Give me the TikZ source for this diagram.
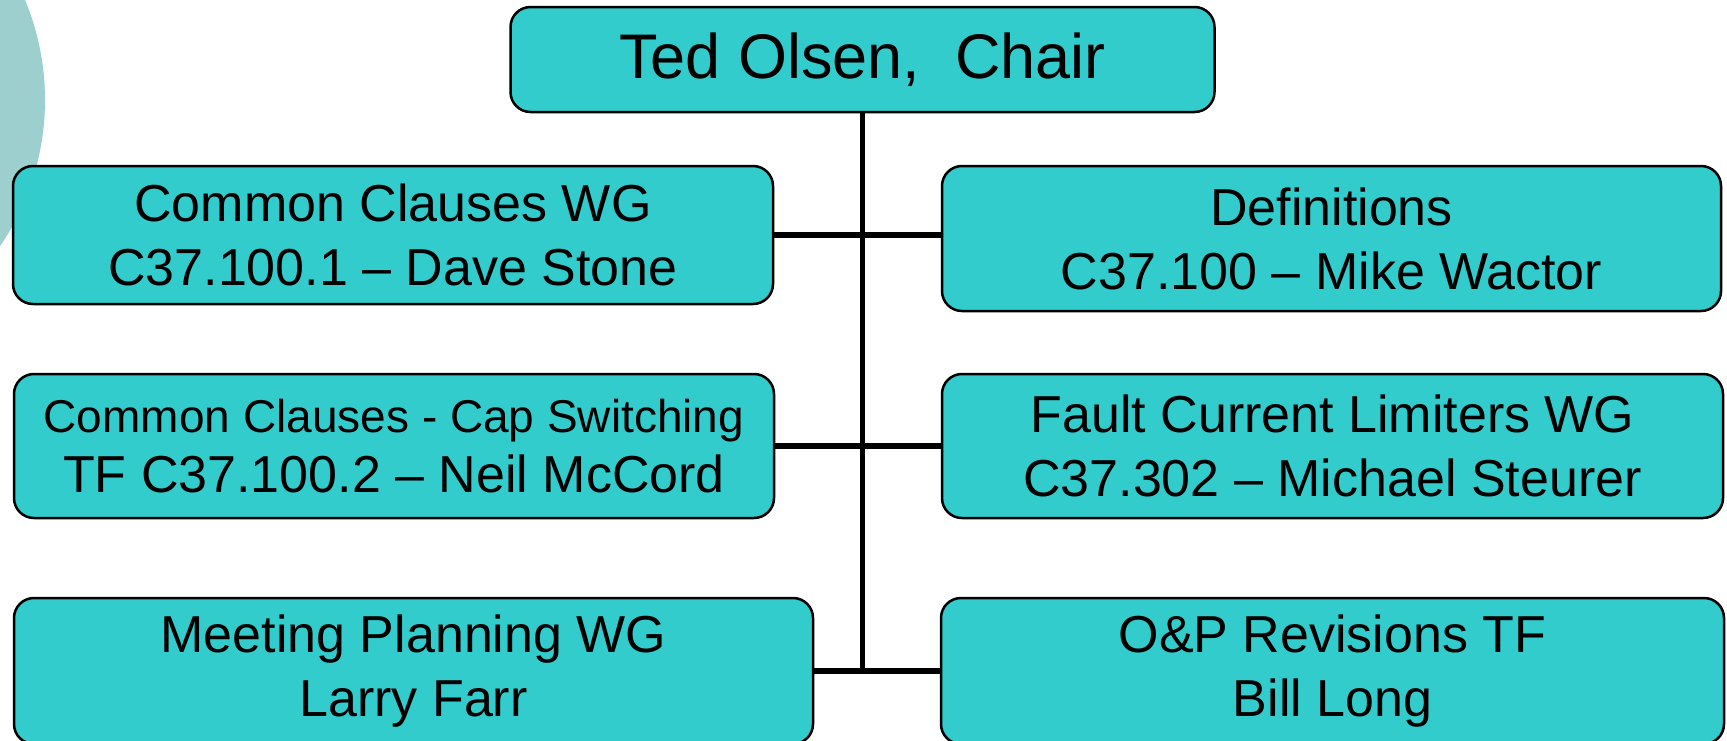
\documentclass[tikz,border=0pt]{standalone}
\usepackage{fontspec}
\setmainfont{Liberation Sans}
\usepackage{xcolor}
\usepackage{tikz}
\usetikzlibrary{arrows.meta}
\definecolor{boxteal}{RGB}{51,204,204}
\definecolor{circleteal}{RGB}{157,207,207}
\tikzset{
  unit box/.style={
    draw=black,
    line width=2.5pt,
    fill=boxteal,
    rounded corners=20pt,
    align=center,
    inner sep=0pt,
    font=\fontsize{52}{64}\selectfont,
    #1
  },
  chair box/.style={
    minimum width=704pt,
    minimum height=105pt,
    font=\fontsize{63}{75}\selectfont
  }
}
\begin{document}
\begin{tikzpicture}[x=1pt,y=-1pt]
                    \useasboundingbox (0,0) rectangle (1727,740);
                    \clip (0,0) rectangle (1727,740);
                    \fill [circleteal] (-215,100) circle [radius=260pt];
                    \begin{scope}[every node/.style={unit box}]
                        \node [chair box] (chair) at (862.5, 59.5) {Ted Olsen,\ \ Chair};

                        \node [minimum width=760pt, minimum height=138pt] (cc) at (393, 235) {Common Clauses WG\\C37.100.1 – Dave Stone};
                        \node [minimum width=779pt, minimum height=145pt] (defs) at (1331.5, 238.5) {Definitions\\C37.100 – Mike Wactor};

                        \node [minimum width=760pt, minimum height=144pt] (cap) at (394, 446) {{\fontsize{46}{55}\selectfont Common Clauses - Cap Switching}\\[-4pt]TF C37.100.2 – Neil McCord};
                        \node [minimum width=781pt, minimum height=144pt] (fcl) at (1332.5, 446) {Fault Current Limiters WG\\C37.302 – Michael Steurer};

                        \node [minimum width=799pt, minimum height=146pt] (mtg) at (413.5, 671) {Meeting Planning WG\\Larry Farr};
                        \node [minimum width=783pt, minimum height=146pt] (op) at (1332.5, 671) {O\&P Revisions TF\\Bill Long};
                    \end{scope}
                    \coordinate (trunk) at (chair.south |- mtg.east);
                    \begin{scope}[every edge/.style={draw=black,line width=5.5pt}]
                        \path (chair.south) edge (trunk);
                        \path (cc.east) edge (cc.east -| defs.west);
                        \path (cap.east) edge (cap.east -| fcl.west);
                        \path (mtg.east) edge (mtg.east -| op.west);
                    \end{scope}
                \end{tikzpicture}
\end{document}
